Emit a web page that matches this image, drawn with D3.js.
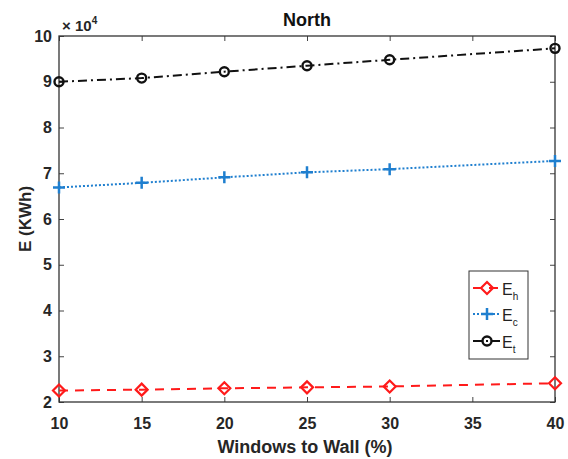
<!DOCTYPE html>
<html><head><meta charset="utf-8">
<script src="https://cdn.jsdelivr.net/npm/d3@7"></script>
<style>body{margin:0;background:#fff;}svg{display:block;font-family:Arial,"Liberation Sans",sans-serif;}</style>
</head><body>
<svg id="c" width="568" height="459"></svg>
<script>
const xValues = [10, 15, 20, 25, 30, 40];
const eh = [2.25, 2.27, 2.30, 2.32, 2.34, 2.41];
const ec = [6.69, 6.79, 6.91, 7.02, 7.09, 7.27];
const et = [9.00, 9.08, 9.22, 9.35, 9.48, 9.73];
const xTicks = [10, 15, 20, 25, 30, 35, 40];
const yTicks = [2, 3, 4, 5, 6, 7, 8, 9, 10];
const seriesNames = ["E", "E", "E"];
const seriesSubs = ["h", "c", "t"];

const svg = d3.select("#c");
const L = 59, R = 555, T = 36, B = 402;
const x = d3.scaleLinear().domain([10, 40]).range([L, R]);
const y = d3.scaleLinear().domain([2, 10]).range([B, T]);
const txtCol = "#262626";

const tk = 5;
svg.append("g").attr("transform", `translate(0,${B})`)
  .call(d3.axisBottom(x).tickValues(xTicks).tickSize(-tk).tickPadding(16))
  .call(g => { g.select(".domain").remove(); g.selectAll("line").attr("stroke", "#444"); g.selectAll("text").attr("font-size", 16).attr("font-weight", "bold").attr("fill", txtCol); });
svg.append("g").attr("transform", `translate(0,${T})`)
  .call(d3.axisTop(x).tickValues(xTicks).tickSize(-tk).tickFormat(""))
  .call(g => { g.select(".domain").remove(); g.selectAll("line").attr("stroke", "#444"); });
svg.append("g").attr("transform", `translate(${L},0)`)
  .call(d3.axisLeft(y).tickValues(yTicks).tickSize(-tk).tickPadding(7))
  .call(g => { g.select(".domain").remove(); g.selectAll("line").attr("stroke", "#444"); g.selectAll("text").attr("font-size", 16).attr("font-weight", "bold").attr("fill", txtCol); });
svg.append("g").attr("transform", `translate(${R},0)`)
  .call(d3.axisRight(y).tickValues(yTicks).tickSize(-tk).tickFormat(""))
  .call(g => { g.select(".domain").remove(); g.selectAll("line").attr("stroke", "#444"); });
svg.append("rect").attr("x", L).attr("y", T).attr("width", R - L).attr("height", B - T)
  .attr("fill", "none").attr("stroke", "#333").attr("stroke-width", 1.3);

const ex = svg.append("text").attr("x", 62).attr("y", 31).attr("font-size", 15).attr("font-weight", "bold").attr("fill", txtCol);
ex.append("tspan").text("× 10");
ex.append("tspan").attr("dy", -7).attr("font-size", 10).text("4");

svg.append("text").attr("x", (L + R) / 2).attr("y", 26).attr("text-anchor", "middle")
  .attr("font-size", 18).attr("font-weight", "bold").attr("fill", "#111").text("North");
svg.append("text").attr("x", (L + R) / 2 - 2).attr("y", 453).attr("text-anchor", "middle")
  .attr("font-size", 18).attr("font-weight", "bold").attr("fill", txtCol).text("Windows to Wall (%)");
svg.append("text").attr("transform", `translate(31,${(T + B) / 2}) rotate(-90)`).attr("text-anchor", "middle")
  .attr("font-size", 17).attr("font-weight", "bold").attr("fill", txtCol).text("E (KWh)");

const series = [
  {vals: eh, color: "#ff1a1a", dash: "9,7", marker: "diamond"},
  {vals: ec, color: "#1f7fcf", dash: "2,2", marker: "plus"},
  {vals: et, color: "#111", dash: "9,4,2,4", marker: "circle"}
];
const line = d3.line().x((d, i) => x(xValues[i])).y(d => y(d));

function drawMarker(g, type, cx, cy, color) {
  if (type === "diamond") {
    g.append("path").attr("d", `M${cx},${cy-6}L${cx+6},${cy}L${cx},${cy+6}L${cx-6},${cy}Z`)
      .attr("fill", "none").attr("stroke", color).attr("stroke-width", 2.2);
  } else if (type === "plus") {
    g.append("path").attr("d", `M${cx-6},${cy}H${cx+6}M${cx},${cy-6}V${cy+6}`)
      .attr("stroke", color).attr("stroke-width", 2.5);
  } else {
    g.append("circle").attr("cx", cx).attr("cy", cy).attr("r", 4.5)
      .attr("fill", "none").attr("stroke", color).attr("stroke-width", 2.4);
  }
}

series.forEach(s => {
  svg.append("path").datum(s.vals).attr("d", line).attr("fill", "none")
    .attr("stroke", s.color).attr("stroke-width", 2).attr("stroke-dasharray", s.dash);
  const g = svg.append("g");
  s.vals.forEach((v, i) => drawMarker(g, s.marker, x(xValues[i]), y(v), s.color));
});

const lg = svg.append("g");
lg.append("rect").attr("x", 469).attr("y", 271).attr("width", 59).attr("height", 88)
  .attr("fill", "#fff").attr("stroke", "#333").attr("stroke-width", 1);
const ly = [288, 314, 341];
series.forEach((s, i) => {
  lg.append("line").attr("x1", 473).attr("x2", 500).attr("y1", ly[i]).attr("y2", ly[i])
    .attr("stroke", s.color).attr("stroke-width", 2).attr("stroke-dasharray", s.dash);
  drawMarker(lg, s.marker, 487, ly[i], s.color);
  const t = lg.append("text").attr("x", 502).attr("y", ly[i] + 7).attr("font-size", 16).attr("fill", "#222");
  t.append("tspan").text(seriesNames[i]);
  t.append("tspan").attr("dy", 5).attr("font-size", 10).text(seriesSubs[i]);
});
</script>
</body></html>
